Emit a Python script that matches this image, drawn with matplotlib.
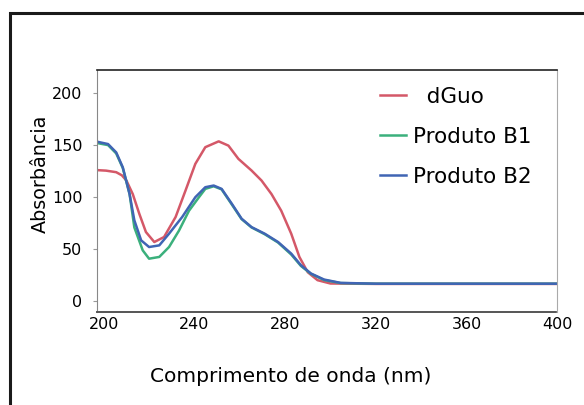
import matplotlib
matplotlib.use("Agg")
import matplotlib.pyplot as plt
from matplotlib.patches import Rectangle

# spectra (wavelength nm, absorbance)
wl_dguo = [197, 201, 205.5, 208, 210, 212.8, 215.7, 218.6, 222.3, 226.6, 231.7, 236, 240.4,
           244.8, 250.7, 255, 259.4, 265.2, 269.6, 274, 278.3, 282.7, 286.3, 290, 294.3,
           300, 320, 360, 400]
abs_dguo = [126, 125.5, 124, 121, 116, 103, 84, 66.6, 57, 61.8, 81, 106, 132,
            148, 153.6, 149.5, 136.8, 125.6, 116, 103, 87, 65, 42.7, 28, 20.4,
            17.2, 16.8, 16.8, 16.8]

wl_b1 = [197, 201.9, 205.5, 208.4, 211.4, 213.5, 217.2, 220, 224.5, 228.8, 233.2, 237.6,
         242, 244.8, 248.5, 252, 256.5, 260.8, 265.2, 271, 276.9, 282.7, 287, 291.4,
         297.2, 304.5, 320, 360, 400]
abs_b1 = [152, 150, 142, 128, 103, 71, 49, 41, 42.7, 52.2, 68, 87,
          100, 108, 110.5, 107.5, 93, 79, 71, 64.5, 56.5, 45, 34, 26.5,
          20.5, 17.6, 17, 17, 17]

wl_b2 = [197, 201.9, 205.5, 208.4, 211.4, 213.5, 216.5, 220, 224.5, 228.8, 234.6, 240.4,
         244.8, 248.5, 252, 256.5, 260.8, 265.2, 271, 276.9, 282.7, 287, 291.4, 297.2,
         304.5, 320, 360, 400]
abs_b2 = [153.3, 151, 143, 128.7, 103, 77.8, 58.6, 52.2, 53.8, 65, 81, 100,
          109.6, 111.2, 108, 93.7, 79.4, 71.3, 65, 57, 45.9, 34.7, 26.8, 21,
          17.8, 17, 17, 17]

x_ticks = [200, 240, 280, 320, 360, 400]
y_ticks = [0, 50, 100, 150, 200]

fig = plt.figure(figsize=(5.84, 4.05), dpi=100)
ax = fig.add_axes([0.166, 0.230, 0.788, 0.597])

ax.plot(wl_dguo, abs_dguo, color="#d45868", lw=1.8, label="  dGuo")
ax.plot(wl_b1, abs_b1, color="#3bb07c", lw=1.8, label="Produto B1")
ax.plot(wl_b2, abs_b2, color="#4065b4", lw=1.8, label="Produto B2")

ax.set_xlim(197, 398)
ax.set_ylim(-10, 222)
ax.set_xticks(x_ticks)
ax.set_yticks(y_ticks)
ax.tick_params(axis="x", length=0, pad=4, labelsize=11.5)
ax.tick_params(axis="y", length=3, color="#999999", pad=7.5, labelsize=11.5)
ax.set_xlabel("Comprimento de onda (nm)", fontsize=14.5)
ax.xaxis.set_label_coords(0.422, -0.228)
ax.set_ylabel("Absorbância", fontsize=13.8)
ax.yaxis.set_label_coords(-0.103, 0.572)

ax.spines["top"].set_color("#222222")
ax.spines["top"].set_linewidth(1.2)
ax.spines["left"].set_color("#888888")
ax.spines["right"].set_color("#aaaaaa")
ax.spines["bottom"].set_color("#555555")
ax.spines["bottom"].set_linestyle((0, (2, 1)))
ax.spines["bottom"].set_linewidth(1.4)

leg = ax.legend(loc="upper left", frameon=False, fontsize=15.5, handlelength=1.2,
                handletextpad=0.35, labelspacing=0.93, borderpad=0,
                borderaxespad=0, bbox_to_anchor=(0.615, 0.93))

# scanned outer frame
fig.patches.append(Rectangle((9.5 / 584, -0.05), 1.2, 1.0 - 12.5 / 405 + 0.05,
                             transform=fig.transFigure, fill=False,
                             edgecolor="#1a1a1a", lw=2.2, clip_on=False))

fig.savefig("out.png", dpi=100)
